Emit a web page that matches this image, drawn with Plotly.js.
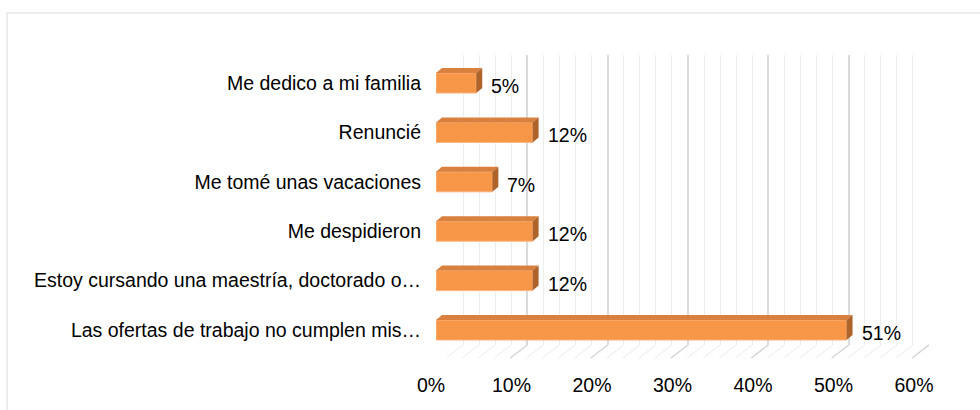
<!DOCTYPE html>
<html>
<head>
<meta charset="utf-8">
<script src="https://cdn.plot.ly/plotly-3.0.1.min.js"></script>
<style>html,body{margin:0;padding:0;background:#fff;}#chart{width:980px;height:410px;}</style>
</head>
<body>
<div id="chart"></div>
<script>
const categories = [
  "Me dedico a mi familia",
  "Renuncié",
  "Me tomé unas vacaciones",
  "Me despidieron",
  "Estoy cursando una maestría, doctorado o…",
  "Las ofertas de trabajo no cumplen mis…"
];
const values = [5, 12, 7, 12, 12, 51];
const valueLabels = ["5%", "12%", "7%", "12%", "12%", "51%"];
const tickValues = [0, 10, 20, 30, 40, 50, 60];
const tickLabels = ["0%", "10%", "20%", "30%", "40%", "50%", "60%"];

const W = 980, H = 410;
const FONT = "Liberation Sans, Arial, sans-serif";
const FS = 19.5;
// geometry (pixels)
const frontL = 436, frontR = 919;      // front face 0..60
const backL = 447, backR = 929;        // back wall grid 0..60
const plotTop = 58.3, plotBot = 354.7;
const gridTop = 55, gridBot = 345;
const floorDx = 17, floorDy = 13;
const pxPerUnitX = (frontR - frontL) / 60;
const pxPerCat = (plotBot - plotTop) / categories.length;
const barW = 0.405;
const depthX = 6 / pxPerUnitX;
const depthY = 5 / pxPerCat;

const yIdx = categories.map((c, i) => i);

// dummy trace for back-wall grid axes (drawn first, below bars)
const gridTrace = {type: 'scatter', x: [0, 60], y: [0, 1], mode: 'none', xaxis: 'x', yaxis: 'y', hoverinfo: 'skip', showlegend: false};

const bar = {
  type: 'bar', orientation: 'h',
  x: values, y: yIdx, width: barW,
  marker: {color: '#F79646', line: {color: '#FAB17E', width: 1}},
  hoverinfo: 'skip', xaxis: 'x2', yaxis: 'y2'
};

const shapes = [];
// floor diagonals for every grid line
for (let v = 0; v <= 60; v += 2) {
  const major = v % 10 === 0;
  shapes.push({
    type: 'line', xref: 'x', yref: 'paper',
    x0: v, x1: v - floorDx / ((backR - backL) / 60),
    y0: (H - gridBot) / H, y1: (H - gridBot - floorDy) / H,
    line: {color: major ? '#D4D4D4' : '#EBEBEB', width: major ? 1.5 : 1},
    layer: 'below'
  });
}
// 3D top and side faces
values.forEach((v, i) => {
  const yt = i - barW / 2, yb = i + barW / 2;
  shapes.push({
    type: 'path', xref: 'x2', yref: 'y2', layer: 'above',
    path: `M0,${yt} L${v},${yt} L${v + depthX},${yt - depthY} L${depthX},${yt - depthY} Z`,
    fillcolor: '#D9803E', line: {width: 0}
  });
  shapes.push({
    type: 'path', xref: 'x2', yref: 'y2', layer: 'above',
    path: `M${v},${yt} L${v + depthX},${yt - depthY} L${v + depthX},${yb - depthY} L${v},${yb} Z`,
    fillcolor: '#AD6329', line: {width: 0}
  });
});
// chart border
shapes.push({type: 'rect', xref: 'paper', yref: 'paper', x0: 7 / W, x1: 1.05, y0: -0.05, y1: (H - 13) / H,
  line: {color: '#D9D9D9', width: 1}, fillcolor: 'rgba(0,0,0,0)', layer: 'below'});

const annotations = values.map((v, i) => ({
  xref: 'x2', yref: 'y2', x: v + depthX, y: i, text: valueLabels[i],
  showarrow: false, xanchor: 'left', yanchor: 'middle', xshift: 7, yshift: -3,
  font: {family: FONT, size: FS, color: '#000'}
}));

const layout = {
  width: W, height: H,
  margin: {l: 0, r: 0, t: 0, b: 0},
  paper_bgcolor: '#fff', plot_bgcolor: 'rgba(0,0,0,0)',
  showlegend: false,
  font: {family: FONT, size: FS, color: '#000'},
  xaxis: {
    domain: [backL / W, backR / W], range: [0, 60], anchor: 'y',
    dtick: 10, showgrid: true, gridcolor: '#DADADA', gridwidth: 2,
    minor: {dtick: 2, showgrid: true, gridcolor: '#EDEDED', gridwidth: 1},
    showticklabels: false, zeroline: false, showline: false, ticks: '', fixedrange: true
  },
  yaxis: {
    domain: [(H - gridBot) / H, (H - gridTop) / H], range: [0, 1], anchor: 'x',
    showgrid: false, showticklabels: false, zeroline: false, showline: false, fixedrange: true
  },
  xaxis2: {
    domain: [frontL / W, frontR / W], range: [0, 60],
    tickvals: tickValues, ticktext: tickLabels,
    showgrid: false, zeroline: false, showline: false, ticks: '',
    ticklabelstandoff: 17, ticklabelshift: -5,
    tickfont: {family: FONT, size: FS, color: '#000'},
    anchor: 'y2', automargin: false, fixedrange: true
  },
  yaxis2: {
    domain: [(H - plotBot) / H, (H - plotTop) / H],
    range: [categories.length - 0.5, -0.5],
    tickvals: yIdx, ticktext: categories,
    showgrid: false, zeroline: false, showline: false, ticks: '',
    ticklabelstandoff: 14,
    tickfont: {family: FONT, size: FS, color: '#000'},
    anchor: 'x2', automargin: false, fixedrange: true
  },
  shapes: shapes,
  annotations: annotations
};

Plotly.newPlot('chart', [gridTrace, bar], layout, {staticPlot: true, displayModeBar: false});
</script>
</body>
</html>
